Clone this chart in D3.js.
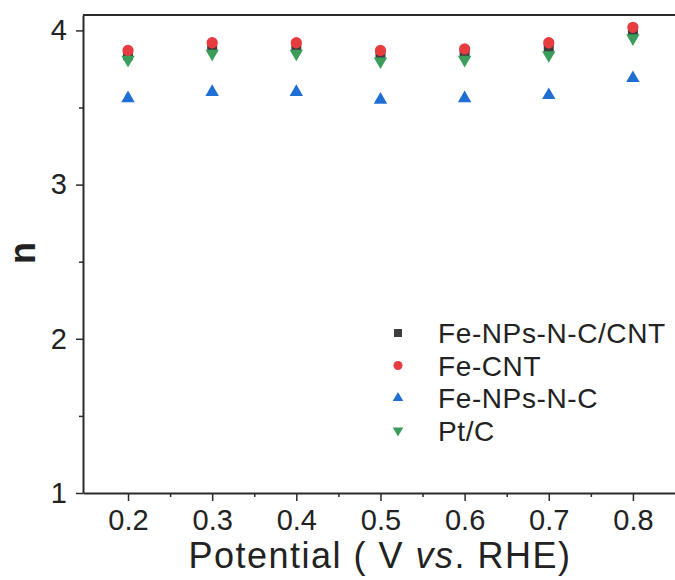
<!DOCTYPE html>
<html>
<head>
<meta charset="utf-8">
<script src="https://cdn.jsdelivr.net/npm/d3@7"></script>
<style>
body { margin: 0; background: #fff; }
svg { display: block; font-family: "Liberation Sans", Arial, sans-serif; }
</style>
</head>
<body>
<div class="container"></div>
<script>
// Data
const potential = [0.2, 0.3, 0.4, 0.5, 0.6, 0.7, 0.8];
const feNpsNcCnt = [3.84, 3.89, 3.89, 3.84, 3.85, 3.89, 3.99];
const feCnt = [3.87, 3.92, 3.92, 3.87, 3.88, 3.92, 4.02];
const feNpsNc = [3.56, 3.60, 3.60, 3.55, 3.56, 3.58, 3.69];
const ptC = [3.81, 3.85, 3.85, 3.80, 3.81, 3.84, 3.95];
const seriesNames = ["Fe-NPs-N-C/CNT", "Fe-CNT", "Fe-NPs-N-C", "Pt/C"];
const xTicks = [0.2, 0.3, 0.4, 0.5, 0.6, 0.7, 0.8];
const yTicks = [1, 2, 3, 4];

const w = 675;
const h = 580;

const xScale = d3.scaleLinear().domain([0.1465, 0.85]).range([83, 675]);
const yScale = d3.scaleLinear().domain([1, 4.1]).range([493, 15]);

const svg = d3.select(".container")
  .append("svg")
  .attr("width", w)
  .attr("height", h);

const series = [
  {name: seriesNames[0], values: feNpsNcCnt, type: d3.symbolSquare, size: 100, rot: 0, color: "#3d3d3d"},
  {name: seriesNames[1], values: feCnt, type: d3.symbolCircle, size: 100, rot: 0, color: "#e63b3f"},
  {name: seriesNames[2], values: feNpsNc, type: d3.symbolTriangle, size: 78, rot: 0, color: "#1f6ed4"},
  {name: seriesNames[3], values: ptC, type: d3.symbolTriangle, size: 78, rot: 180, color: "#3a9d5a"}
];

// top frame line
svg.append("line")
  .attr("x1", 83).attr("x2", w)
  .attr("y1", 15).attr("y2", 15)
  .attr("stroke", "#2a2a2a")
  .attr("stroke-width", 2);

// x axis
const xAxis = d3.axisBottom(xScale).tickValues(xTicks).tickSize(8).tickSizeOuter(0)
  .tickFormat(d3.format(".1f"));
const gx = svg.append("g")
  .attr("transform", `translate(0,493)`)
  .call(xAxis);
gx.selectAll("text").attr("dy", "0.72em").attr("y", 16)
  .style("font-size", "29px").attr("fill", "#222");

svg.append("g")
  .attr("transform", `translate(0,493)`)
  .call(d3.axisBottom(xScale).tickValues([0.25, 0.35, 0.45, 0.55, 0.65, 0.75]).tickSize(4).tickSizeOuter(0).tickFormat(""))
  .select(".domain").remove();

// y axis
const yAxis = d3.axisLeft(yScale).tickValues(yTicks).tickSize(7).tickSizeOuter(0)
  .tickFormat(d3.format("d"));
const gy = svg.append("g")
  .attr("transform", `translate(83,0)`)
  .call(yAxis);
gy.selectAll("text").attr("x", -16)
  .style("font-size", "29px").attr("fill", "#222");

svg.append("g")
  .attr("transform", `translate(83,0)`)
  .call(d3.axisLeft(yScale).tickValues([1.5, 2.5, 3.5]).tickSize(4).tickSizeOuter(0).tickFormat(""))
  .select(".domain").remove();

svg.selectAll(".domain").attr("stroke", "#2a2a2a").attr("stroke-width", 2);
svg.selectAll(".tick line").attr("stroke", "#2a2a2a").attr("stroke-width", 1.5);

// axis labels
svg.append("text")
  .attr("x", 380)
  .attr("y", 568)
  .style("font-size", "36px")
  .style("letter-spacing", "1.5px")
  .style("text-anchor", "middle")
  .attr("fill", "#222")
  .html('Potential ( V <tspan font-style="italic">vs</tspan>. RHE)');

svg.append("text")
  .attr("transform", "translate(35,253) rotate(-90)")
  .style("font-size", "36px")
  .style("font-weight", "bold")
  .style("text-anchor", "middle")
  .attr("fill", "#222")
  .text("n");

// points
series.forEach(s => {
  svg.append("g")
    .selectAll("path")
    .data(s.values)
    .enter()
    .append("path")
    .attr("d", d3.symbol().type(s.type).size(s.size))
    .attr("transform", (d, i) => `translate(${xScale(potential[i])},${yScale(d)}) rotate(${s.rot})`)
    .attr("fill", s.color);
});

// legend
const legend = svg.append("g").attr("id", "legend");
const legendItem = legend.selectAll("g")
  .data(series)
  .enter()
  .append("g")
  .attr("transform", (d, i) => `translate(398,${333 + i * 32.5})`);

legendItem.append("path")
  .attr("d", d => d3.symbol().type(d.type).size(d.type === d3.symbolTriangle ? 48 : 64)())
  .attr("transform", d => `rotate(${d.rot})`)
  .attr("fill", d => d.color);

legendItem.append("text")
  .attr("x", 40)
  .attr("dy", "0.36em")
  .style("font-size", "28px")
  .style("letter-spacing", "0.6px")
  .attr("fill", "#222")
  .text(d => d.name);
</script>
</body>
</html>
